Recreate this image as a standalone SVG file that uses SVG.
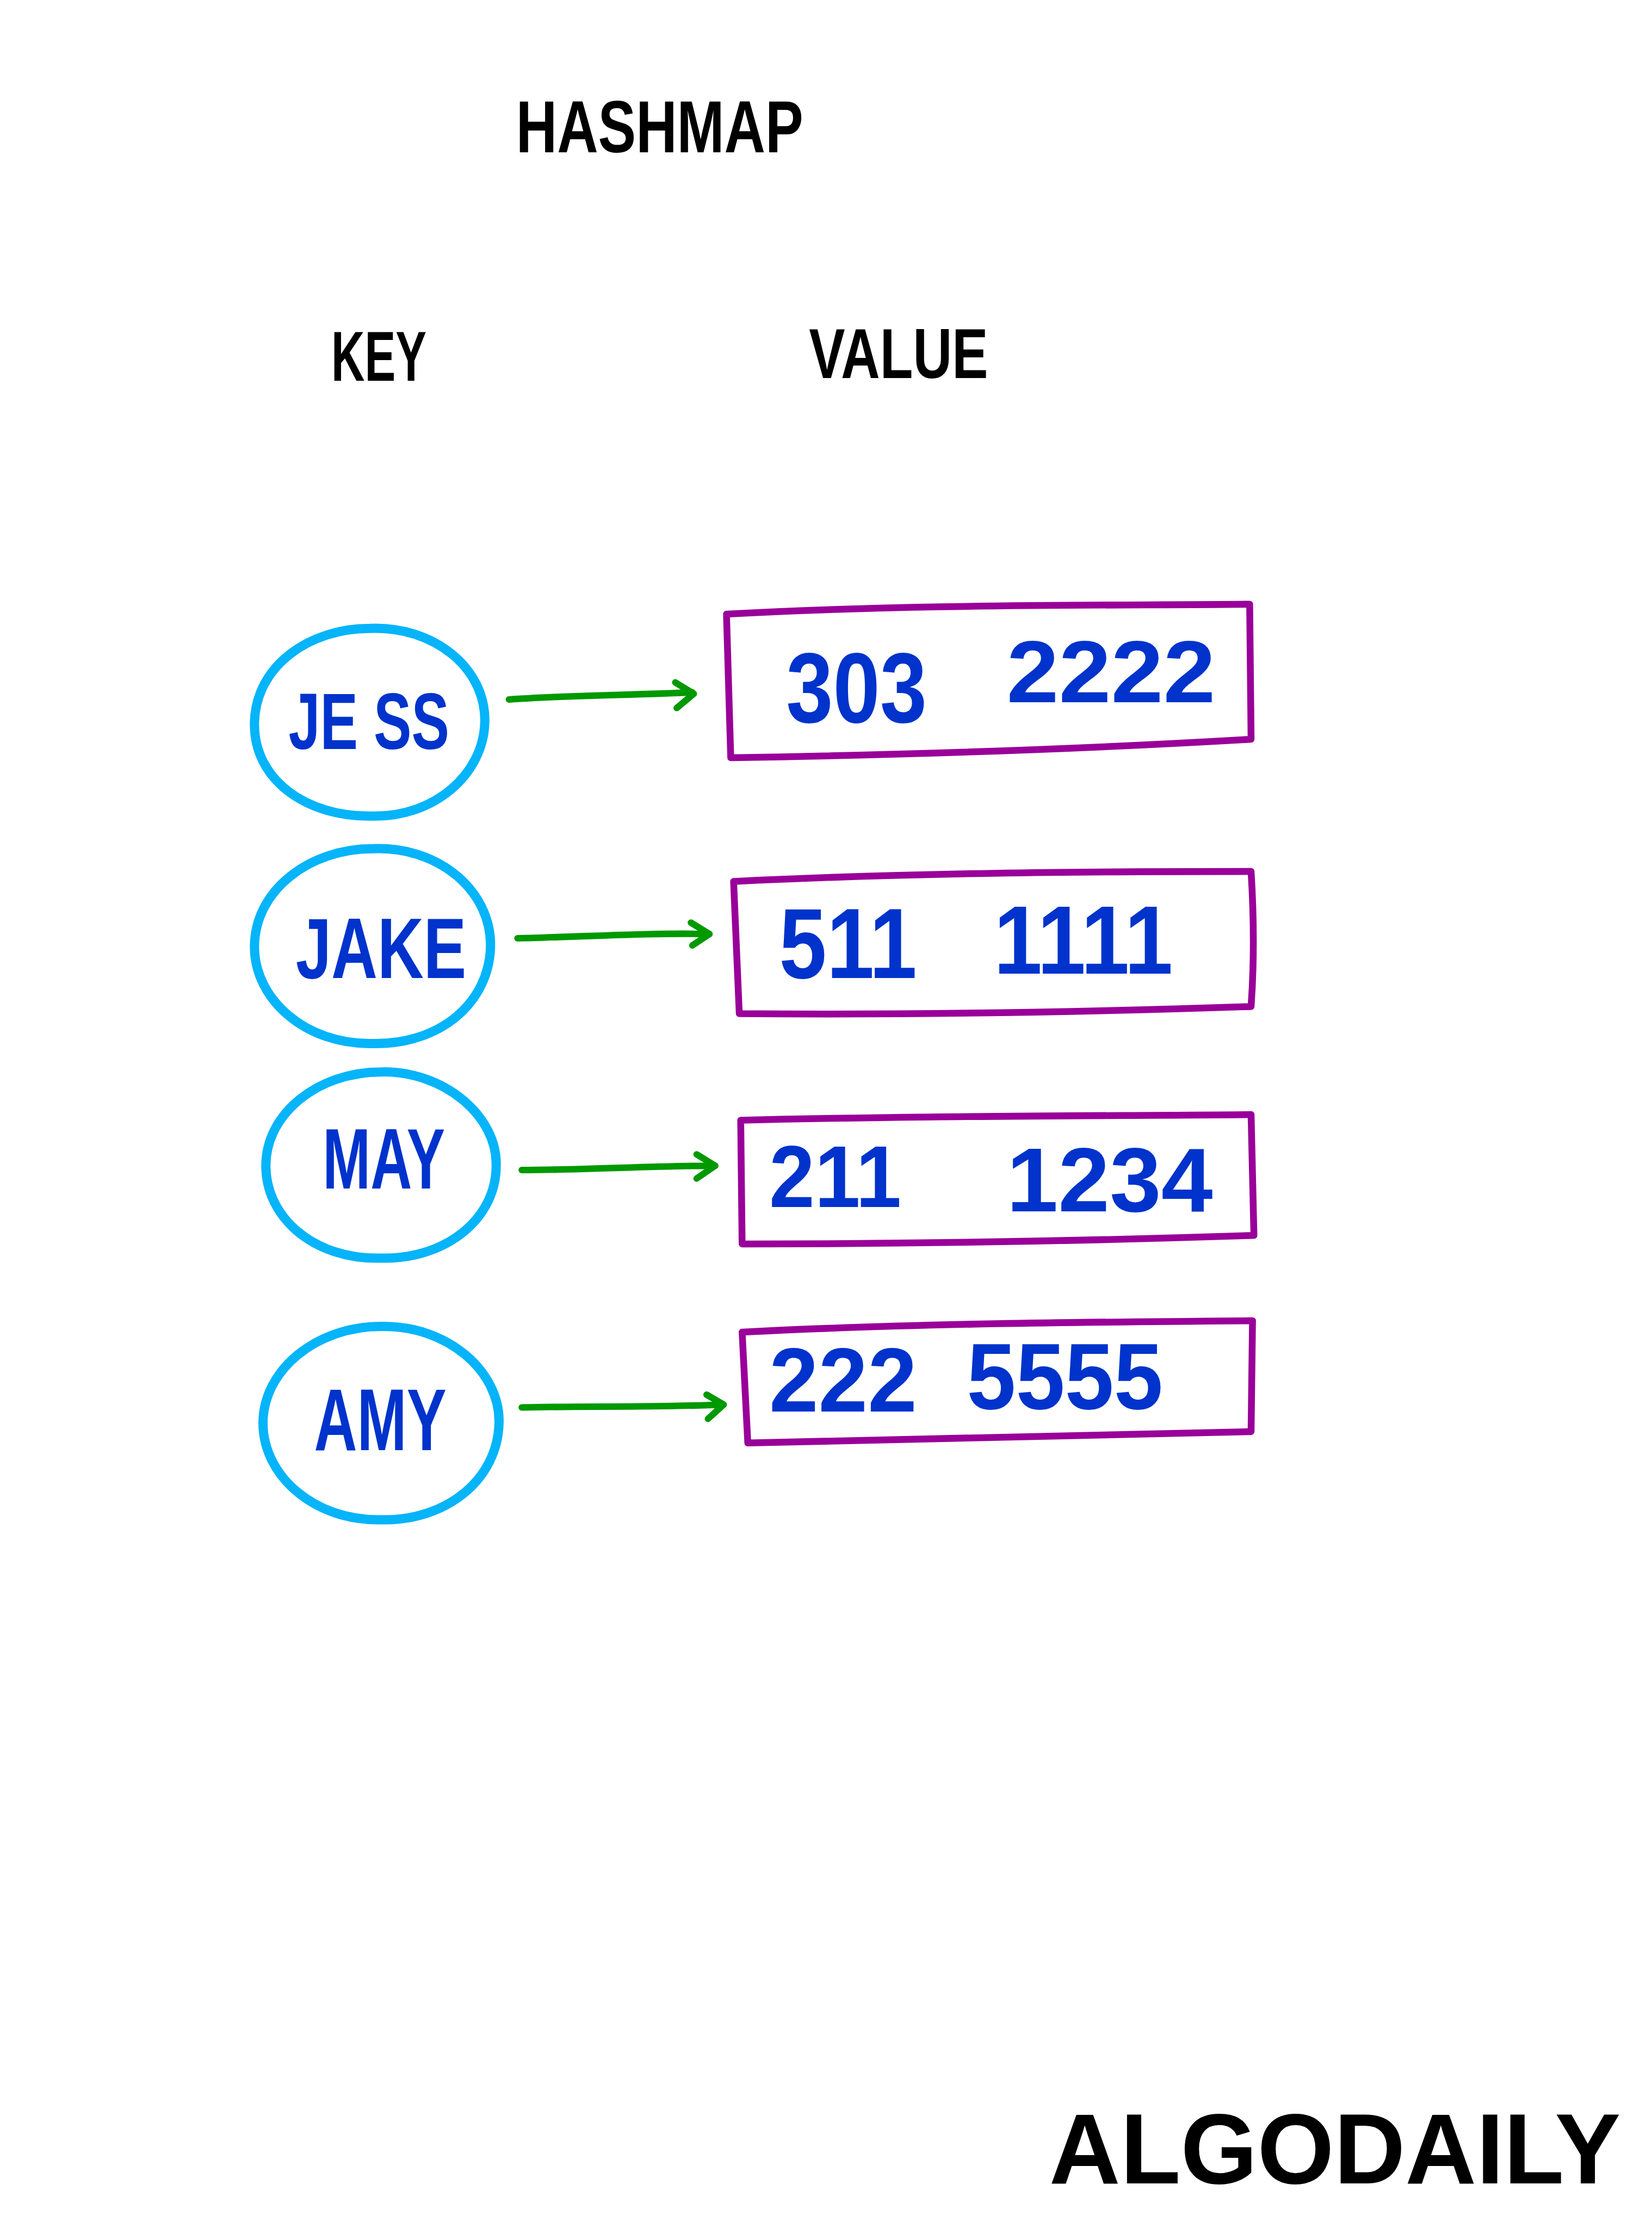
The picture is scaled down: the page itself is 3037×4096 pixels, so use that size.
<svg xmlns="http://www.w3.org/2000/svg" width="3037" height="4096" viewBox="0 0 3037 4096">
<style>
.key{fill:none;stroke:#05B4F9;stroke-width:6.5}
.val{fill:none;stroke:#990099;stroke-width:4.8;stroke-linejoin:round;stroke-linecap:round}
.arr{fill:none;stroke:#009900;stroke-width:4.6;stroke-linecap:round;stroke-linejoin:round}
.hd{font-family:"Liberation Sans",Arial,sans-serif;font-weight:700;fill:#000}
.bl{font-family:"Liberation Sans",Arial,sans-serif;font-weight:700;fill:#0033CC}
</style>
<rect width="3037" height="4096" fill="#fff"/>
<g transform="scale(2.6136)">
  <g id="titles">
    <text class="hd" x="363" y="107" font-size="52" textLength="202" lengthAdjust="spacingAndGlyphs">HASHMAP</text>
    <text class="hd" x="233" y="268" font-size="50" textLength="67" lengthAdjust="spacingAndGlyphs">KEY</text>
    <text class="hd" x="569" y="266" font-size="50" textLength="126" lengthAdjust="spacingAndGlyphs">VALUE</text>
  </g>
  <g id="key-jess">
    <path class="key" d="M260,442 C305,440 342,470 341,508 C340,545 305,575 262,574 C215,575 178,548 179,508 C180,468 218,442 260,442 Z"/>
    <text class="bl" x="203" y="527" font-size="56" textLength="113" lengthAdjust="spacingAndGlyphs">JE SS</text>
  </g>
  <g id="key-jake">
    <path class="key" d="M262,597 C310,595 346,628 345,666 C344,705 310,735 262,734 C215,735 179,703 179,666 C179,626 218,597 262,597 Z"/>
    <text class="bl" x="208" y="688" font-size="60" textLength="120" lengthAdjust="spacingAndGlyphs">JAKE</text>
  </g>
  <g id="key-may">
    <path class="key" d="M268,754 C312,753 350,785 349,820 C349,857 314,886 268,885 C220,886 187,856 187,820 C187,783 224,754 268,754 Z"/>
    <text class="bl" x="227" y="836" font-size="60" textLength="86" lengthAdjust="spacingAndGlyphs">MAY</text>
  </g>
  <g id="key-amy">
    <path class="key" d="M268,933 C315,932 352,965 351,1001 C350,1040 315,1070 268,1069 C221,1070 185,1038 185,1001 C185,964 222,933 268,933 Z"/>
    <text class="bl" x="221" y="1020" font-size="62" textLength="93" lengthAdjust="spacingAndGlyphs">AMY</text>
  </g>
  <g id="connectors">
    <path class="arr" d="M358,492 C400,489 445,489 487,487"/>
    <path class="arr" d="M475,480 L488,488 L476,498"/>
    <path class="arr" d="M364,660 C410,659 455,656 499,657"/>
    <path class="arr" d="M486,649 L499,657 L487,665"/>
    <path class="arr" d="M367,823 C412,823 458,820 503,820"/>
    <path class="arr" d="M490,812 L503,820 L490,829"/>
    <path class="arr" d="M367,990 C415,989 462,990 509,988"/>
    <path class="arr" d="M497,981 L509,988 L498,998"/>
  </g>
  <g id="val-jess">
    <path class="val" d="M511,432 C640,425 760,426 879,425 L880,520 C760,527 640,531 514,533 Z"/>
    <text class="bl" x="553" y="508" font-size="70" textLength="99" lengthAdjust="spacingAndGlyphs">303</text>
    <text class="bl" x="708" y="494" font-size="62" textLength="147" lengthAdjust="spacingAndGlyphs">2222</text>
  </g>
  <g id="val-jake">
    <path class="val" d="M516,620 C640,614 760,613 880,613 C882,645 882,680 880,708 C760,712 640,714 520,713 Z"/>
    <text class="bl" x="548" y="688" font-size="70" textLength="97" lengthAdjust="spacingAndGlyphs">511</text>
    <text class="bl" x="699" y="685" font-size="68" textLength="126" lengthAdjust="spacingAndGlyphs">1111</text>
  </g>
  <g id="val-may">
    <path class="val" d="M521,788 C640,785 760,785 880,784 L882,869 C760,873 640,875 522,875 Z"/>
    <text class="bl" x="541" y="849" font-size="62" textLength="93" lengthAdjust="spacingAndGlyphs">211</text>
    <text class="bl" x="708" y="852" font-size="64" textLength="145" lengthAdjust="spacingAndGlyphs">1234</text>
  </g>
  <g id="val-amy">
    <path class="val" d="M522,937 C640,931 760,930 881,929 L880,1007 C760,1010 640,1012 526,1015 Z"/>
    <text class="bl" x="541" y="993" font-size="64" textLength="104" lengthAdjust="spacingAndGlyphs">222</text>
    <text class="bl" x="680" y="991" font-size="66" textLength="138" lengthAdjust="spacingAndGlyphs">5555</text>
  </g>
  <text class="hd" x="738" y="1536" font-size="70" textLength="402" lengthAdjust="spacingAndGlyphs">ALGODAILY</text>
</g>
</svg>
